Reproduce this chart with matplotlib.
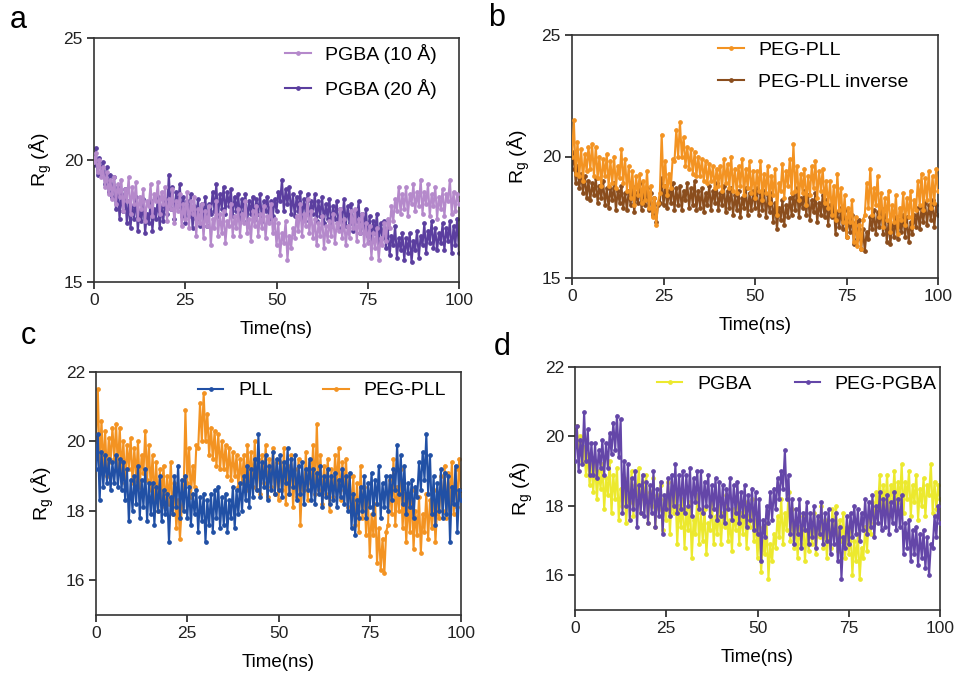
import numpy as np
import matplotlib
matplotlib.use('Agg')
import matplotlib.pyplot as plt

plt.rcParams['font.family'] = ['Liberation Sans', 'DejaVu Sans']
plt.rcParams['mathtext.fontset'] = 'custom'
plt.rcParams['mathtext.rm'] = 'Liberation Sans'

# time axis, 0.5 ns sampling (201 frames)
time_ns = np.linspace(0, 100, 201)

# Rg traces (Angstrom), one row = 5 ns
pgba_10 = [
    19.9, 20.3, 19.5, 20.0, 19.3, 19.7, 18.9, 19.5, 18.6, 19.2,
    18.4, 19.3, 18.2, 19.0, 18.5, 19.2, 17.9, 18.8, 18.3, 19.3,
    17.8, 18.9, 18.2, 19.1, 17.6, 18.5, 18.0, 18.8, 17.5, 18.3,
    18.1, 19.0, 17.7, 18.6, 18.3, 19.1, 17.8, 18.7, 18.2, 18.9,
    17.5, 18.4, 18.0, 18.8, 17.4, 18.3, 17.9, 18.6, 17.3, 18.2,
    17.6, 18.7, 17.2, 18.3, 17.8, 18.5, 16.9, 18.0, 17.4, 18.2,
    16.8, 17.9, 17.3, 18.1, 16.5, 17.6, 17.2, 18.3, 16.9, 17.8,
    17.0, 17.9, 16.6, 17.5, 17.3, 18.2, 16.9, 17.7, 17.2, 18.0,
    16.9, 17.8, 17.4, 18.3, 17.0, 17.6, 16.7, 17.9, 17.3, 18.1,
    16.9, 17.8, 17.2, 18.1, 16.8, 17.7, 17.4, 18.2, 17.0, 17.6,
    16.5, 17.4, 16.1, 17.0, 16.6, 17.5, 15.9, 16.9, 16.4, 17.2,
    16.8, 17.7, 17.1, 18.2, 16.9, 17.8, 17.3, 18.4, 17.0, 17.9,
    16.8, 17.6, 16.5, 17.4, 16.9, 17.7, 16.4, 17.3, 16.7, 17.5,
    16.9, 17.8, 16.6, 17.4, 17.1, 18.0, 16.8, 17.6, 16.5, 17.3,
    16.8, 17.9, 17.2, 18.0, 16.7, 17.6, 17.0, 17.8, 16.5, 17.4,
    16.6, 17.3, 16.0, 17.0, 16.4, 17.2, 15.9, 16.8, 16.5, 17.4,
    16.7, 17.6, 17.2, 18.1, 17.5, 18.4, 17.9, 18.9, 17.8, 18.6,
    18.0, 18.9, 17.7, 18.6, 18.2, 19.0, 17.9, 18.7, 18.1, 19.2,
    17.8, 18.7, 18.2, 19.0, 17.7, 18.6, 18.1, 18.9, 17.6, 18.5,
    18.0, 18.8, 17.7, 18.6, 18.3, 19.2, 17.8, 18.7, 17.9, 18.6,
    18.2]

pgba_20 = [
    19.8, 20.5, 19.4, 20.1, 19.5, 19.9, 19.0, 19.7, 18.7, 19.4,
    18.5, 19.3, 18.0, 18.9, 17.6, 18.6, 17.9, 18.8, 17.4, 18.3,
    17.2, 18.1, 17.6, 18.5, 17.1, 17.9, 17.5, 18.4, 17.0, 17.8,
    17.4, 18.3, 17.1, 18.0, 17.6, 18.5, 17.2, 18.1, 17.5, 18.4,
    17.8, 19.4, 18.0, 18.9, 17.6, 18.7, 18.1, 19.0, 17.7, 18.5,
    17.4, 18.3, 17.7, 18.6, 17.2, 18.1, 17.6, 18.4, 17.3, 18.2,
    17.6, 18.5, 17.3, 18.2, 17.8, 18.7, 17.9, 19.0, 17.7, 18.6,
    18.0, 18.9, 17.8, 18.7, 18.1, 18.8, 17.7, 18.5, 17.9, 18.6,
    17.6, 18.4, 17.9, 18.6, 17.5, 18.3, 17.8, 18.5, 17.6, 18.4,
    17.8, 18.6, 17.5, 18.3, 17.9, 18.5, 17.6, 18.3, 17.7, 18.4,
    17.9, 18.7, 18.3, 19.2, 17.9, 18.8, 18.2, 18.9, 17.8, 18.6,
    17.7, 18.5, 17.9, 18.7, 17.6, 18.4, 17.8, 18.6, 17.5, 18.3,
    17.8, 18.6, 17.5, 18.3, 17.7, 18.5, 17.4, 18.2, 17.6, 18.4,
    17.3, 18.1, 17.6, 18.3, 17.2, 18.0, 17.5, 18.4, 17.3, 18.1,
    17.4, 18.2, 17.1, 17.9, 17.5, 18.3, 17.0, 17.8, 17.2, 18.0,
    16.9, 17.7, 16.7, 17.5, 17.0, 17.8, 16.6, 17.4, 16.8, 17.5,
    16.4, 17.2, 16.1, 16.9, 16.5, 17.3, 16.0, 16.8, 16.3, 17.0,
    15.9, 16.8, 16.2, 17.0, 15.8, 16.7, 16.3, 17.1, 16.0, 16.9,
    16.5, 17.4, 16.2, 17.1, 16.6, 17.5, 16.4, 17.2, 16.3, 17.0,
    16.6, 17.4, 16.3, 17.2, 16.7, 17.5, 16.2, 17.3, 16.5, 17.6,
    16.2]

peg_pll = [
    20.0, 21.5, 19.3, 20.6, 19.2, 20.3, 19.0, 20.1, 19.4, 20.4,
    19.5, 20.5, 19.2, 20.4, 19.1, 20.0, 18.8, 19.9, 19.2, 20.1,
    18.8, 19.8, 18.9, 20.0, 18.7, 19.6, 19.1, 20.3, 18.9, 19.9,
    18.6, 19.6, 18.3, 19.4, 18.0, 19.2, 18.4, 19.3, 18.1, 19.0,
    18.2, 19.4, 17.9, 18.8, 17.5, 18.3, 17.2, 18.1, 18.5, 20.9,
    18.8, 19.8, 18.4, 19.3, 18.7, 19.9, 19.8, 21.1, 20.0, 21.4,
    20.0, 20.8, 19.6, 20.4, 19.5, 20.3, 19.3, 20.2, 19.2, 20.0,
    19.2, 19.9, 19.0, 19.8, 18.9, 19.7, 19.0, 19.6, 18.7, 19.5,
    18.8, 19.6, 18.6, 19.9, 18.9, 19.7, 18.7, 20.0, 18.6, 19.5,
    18.5, 19.6, 18.8, 19.9, 18.4, 19.5, 18.7, 19.8, 18.5, 19.4,
    18.3, 19.4, 18.6, 19.8, 18.2, 19.3, 18.5, 19.6, 18.1, 19.2,
    18.4, 19.5, 17.6, 18.9, 18.6, 19.7, 18.3, 19.4, 18.8, 19.9,
    18.5, 20.5, 18.6, 19.6, 18.2, 19.3, 18.5, 19.5, 18.0, 19.2,
    18.4, 19.6, 18.7, 19.8, 18.3, 19.4, 18.6, 19.5, 18.1, 19.0,
    17.9, 19.0, 17.6, 18.8, 17.4, 19.3, 17.8, 18.7, 17.3, 18.4,
    16.7, 17.9, 17.3, 18.2, 16.5, 17.5, 16.3, 17.2, 16.2, 17.4,
    17.6, 18.9, 17.9, 19.5, 17.6, 18.7, 18.0, 19.2, 17.5, 18.5,
    17.1, 18.3, 17.4, 18.6, 16.9, 18.0, 17.3, 18.4, 16.8, 17.9,
    17.4, 18.5, 17.2, 18.3, 17.5, 18.6, 17.1, 18.2, 17.8, 19.0,
    18.0, 19.3, 17.8, 19.1, 18.2, 19.4, 17.9, 19.2, 18.1, 19.5,
    18.6]

peg_pll_inverse = [
    19.5, 20.2, 18.9, 19.6, 18.7, 19.3, 18.5, 19.2, 18.3, 19.0,
    18.2, 18.9, 18.4, 19.1, 18.1, 18.8, 18.3, 19.0, 18.0, 18.7,
    17.9, 18.7, 18.2, 18.9, 17.8, 18.6, 18.1, 18.8, 17.9, 18.5,
    17.8, 18.6, 18.0, 18.8, 17.7, 18.5, 18.1, 18.9, 17.8, 18.6,
    18.0, 18.7, 17.8, 18.5, 17.6, 18.3, 17.3, 18.0, 18.1, 19.1,
    18.0, 18.8, 17.9, 18.6, 18.1, 18.9, 17.8, 18.7, 18.0, 18.8,
    17.8, 18.6, 18.2, 18.9, 17.9, 18.7, 18.0, 19.0, 17.8, 18.6,
    17.9, 18.7, 17.7, 18.5, 18.0, 18.8, 17.8, 18.6, 18.1, 18.9,
    17.8, 18.5, 18.0, 18.8, 17.7, 18.6, 17.9, 18.7, 17.6, 18.4,
    17.8, 18.6, 17.5, 18.3, 17.9, 18.7, 17.6, 18.5, 17.8, 18.6,
    17.9, 18.7, 17.6, 18.5, 17.8, 18.6, 17.5, 18.4, 17.7, 18.5,
    17.3, 18.1, 17.0, 17.9, 17.4, 18.2, 17.2, 18.0, 17.5, 18.3,
    17.6, 18.4, 17.8, 18.7, 17.5, 18.3, 17.9, 18.6, 17.6, 18.4,
    17.4, 18.2, 17.7, 18.5, 17.3, 18.1, 17.6, 18.4, 17.5, 18.2,
    17.2, 18.0, 17.5, 18.2, 16.8, 17.7, 17.1, 17.9, 17.0, 17.8,
    16.7, 17.5, 16.9, 17.6, 16.4, 17.3, 16.6, 17.4, 16.2, 17.0,
    16.1, 16.9, 16.6, 17.5, 17.0, 17.8, 16.8, 17.7, 17.1, 17.9,
    16.8, 17.6, 16.5, 17.3, 16.4, 17.2, 16.7, 17.5, 16.6, 17.4,
    16.9, 17.6, 16.7, 17.5, 16.5, 17.3, 16.8, 17.6, 17.1, 17.9,
    17.0, 17.9, 17.3, 18.1, 17.2, 18.0, 17.4, 18.2, 17.1, 18.0,
    17.6]

pll = [
    19.2, 20.2, 18.3, 19.7, 18.7, 19.6, 18.8, 19.5, 18.6, 19.4,
    18.8, 19.6, 18.7, 19.5, 18.6, 19.4, 18.3, 19.2, 17.7, 18.9,
    18.0, 19.0, 18.2, 19.3, 17.8, 18.9, 18.1, 19.2, 17.7, 18.8,
    17.9, 18.8, 17.6, 18.7, 18.0, 19.0, 17.7, 18.6, 17.9, 18.5,
    17.1, 18.4, 17.9, 19.0, 18.1, 19.3, 17.8, 18.9, 18.0, 19.0,
    17.8, 18.7, 17.6, 18.5, 17.9, 18.6, 17.4, 18.4, 17.7, 18.5,
    17.1, 18.3, 17.6, 18.5, 17.4, 18.6, 17.8, 18.7, 17.5, 18.4,
    17.6, 18.5, 17.4, 18.3, 17.8, 18.7, 17.5, 18.6, 17.9, 18.8,
    18.0, 19.0, 18.3, 19.3, 18.1, 19.2, 18.4, 19.5, 18.6, 20.2,
    18.4, 19.4, 18.7, 19.6, 18.3, 19.3, 18.6, 19.7, 18.5, 19.5,
    18.6, 19.6, 18.4, 19.4, 18.8, 19.8, 18.5, 19.5, 18.7, 19.6,
    18.3, 19.3, 18.5, 19.4, 18.2, 19.2, 18.6, 19.5, 18.3, 19.2,
    18.2, 19.1, 18.5, 19.3, 18.1, 19.0, 18.4, 19.2, 18.2, 19.0,
    18.3, 19.1, 18.1, 18.9, 18.4, 19.2, 18.2, 19.0, 18.0, 19.1,
    17.5, 18.5, 17.3, 18.3, 17.8, 18.7, 18.0, 19.0, 17.8, 18.8,
    18.1, 19.1, 17.9, 18.9, 18.2, 19.3, 17.8, 18.8, 18.1, 19.0,
    18.0, 19.0, 18.3, 19.2, 18.6, 19.9, 18.5, 19.6, 18.2, 19.3,
    17.9, 18.8, 18.1, 18.9, 17.8, 18.7, 18.4, 19.4, 18.6, 19.7,
    18.9, 20.2, 18.5, 19.6, 17.9, 19.0, 17.6, 18.8, 18.0, 19.2,
    17.8, 19.1, 17.9, 19.0, 17.1, 18.7, 18.2, 19.3, 17.4, 18.6,
    18.3]

peg_pgba = [
    19.3, 20.3, 19.0, 19.9, 19.2, 20.7, 19.3, 20.2, 18.9, 19.8,
    18.9, 19.8, 18.8, 19.6, 19.1, 19.9, 18.9, 19.8, 19.1, 20.1,
    19.5, 20.4, 19.6, 20.6, 19.4, 20.5, 17.8, 19.3, 18.0, 19.2,
    17.6, 18.8, 17.9, 19.0, 17.4, 18.6, 17.8, 18.9, 17.7, 18.7,
    17.5, 18.6, 17.8, 19.0, 17.4, 18.5, 17.7, 18.7, 17.2, 18.3,
    17.9, 18.8, 17.7, 18.9, 18.0, 19.2, 17.8, 18.9, 17.9, 19.0,
    17.8, 18.9, 18.0, 19.1, 17.7, 18.8, 18.1, 19.0, 17.9, 19.0,
    17.8, 18.7, 18.0, 18.9, 17.7, 18.6, 17.9, 18.8, 17.6, 18.7,
    17.7, 18.6, 17.5, 18.5, 17.9, 18.8, 17.6, 18.6, 17.8, 18.7,
    17.5, 18.4, 17.7, 18.6, 17.4, 18.3, 17.6, 18.5, 17.3, 18.4,
    17.2, 18.2, 16.4, 17.6, 17.1, 18.0, 17.5, 18.4, 17.6, 18.5,
    17.9, 18.8, 18.2, 19.0, 18.5, 19.6, 18.2, 18.9, 17.2, 18.2,
    16.9, 17.9, 17.2, 18.2, 16.8, 17.8, 17.3, 18.1, 16.9, 17.8,
    17.1, 18.0, 16.8, 17.7, 17.2, 18.1, 16.9, 17.8, 17.0, 17.9,
    16.6, 17.6, 16.9, 17.8, 16.4, 17.4, 15.9, 17.1, 16.8, 17.7,
    16.9, 17.8, 17.1, 18.0, 17.2, 17.9, 17.0, 17.8, 17.3, 18.2,
    17.2, 18.1, 17.4, 18.3, 17.1, 18.0, 17.5, 18.4, 17.3, 18.2,
    17.4, 18.3, 17.2, 18.1, 17.5, 18.4, 17.3, 18.2, 17.4, 18.3,
    16.6, 17.5, 16.8, 17.6, 16.4, 17.3, 16.6, 17.4, 16.3, 17.2,
    16.5, 17.3, 16.2, 17.1, 16.0, 16.9, 16.8, 17.7, 17.1, 18.0,
    17.5]

# colours
c_pgba10 = '#b589cb'
c_pgba20 = '#5b3e9f'
c_orange = '#f39322'
c_brown = '#8a4d1d'
c_blue = '#2150a5'
c_yellow = '#ece92e'
c_pegpgba = '#6446a8'

fig = plt.figure(figsize=(9.56, 6.81), dpi=100)
W, H = 956.0, 681.0


def make_axes(l, r, t, b):
    return fig.add_axes([l / W, 1 - b / H, (r - l) / W, (b - t) / H])


def trace(ax, y, color, label, z):
    ax.plot(time_ns, y, '-', color=color, lw=1.5, marker='o', ms=2.4,
            mec=color, mfc=color, label=label, zorder=z)


def style(ax, ylim, yticks, letter, lx, ly):
    ax.set_xlim(0, 100)
    ax.set_ylim(*ylim)
    ax.set_xticks([0, 25, 50, 75, 100])
    ax.set_yticks(yticks)
    ax.tick_params(direction='out', length=5, width=1.2, labelsize=12.5,
                   colors='#222222', pad=3)
    for s in ax.spines.values():
        s.set_linewidth(1.2)
        s.set_color('#333333')
    ax.set_xlabel('Time(ns)', fontsize=13.5, labelpad=9)
    ax.set_ylabel(r'R$_\mathregular{g}$ (Å)', fontsize=14)
    ax.yaxis.set_label_coords(-0.11, 0.5)
    fig.text(lx / W, 1 - ly / H, letter, fontsize=22, ha='center', va='center')


LEG = dict(frameon=False, fontsize=14, handlelength=1.3, handletextpad=0.75,
           borderpad=0, borderaxespad=0, numpoints=1)

# panel a
ax_a = make_axes(94, 459, 38, 282)
trace(ax_a, pgba_20, c_pgba20, 'PGBA (20 Å)', 2)
trace(ax_a, pgba_10, c_pgba10, 'PGBA (10 Å)', 3)
style(ax_a, (15, 25), [15, 20, 25], 'a', 18, 20)
h, l = ax_a.get_legend_handles_labels()
ax_a.legend(h[::-1], l[::-1], loc='upper right', bbox_to_anchor=(0.94, 0.975),
            labelspacing=0.75, **LEG)

# panel b
ax_b = make_axes(572, 938, 35, 278)
trace(ax_b, peg_pll_inverse, c_brown, 'PEG-PLL inverse', 2)
trace(ax_b, peg_pll, c_orange, 'PEG-PLL', 3)
style(ax_b, (15, 25), [15, 20, 25], 'b', 497, 18)
h, l = ax_b.get_legend_handles_labels()
ax_b.legend(h[::-1], l[::-1], loc='upper left', bbox_to_anchor=(0.4, 0.975),
            labelspacing=0.75, **LEG)

# panel c
ax_c = make_axes(96, 461, 372, 615)
trace(ax_c, peg_pll, c_orange, 'PEG-PLL', 2)
trace(ax_c, pll, c_blue, 'PLL', 3)
style(ax_c, (15, 22), [16, 18, 20, 22], 'c', 28, 336)
h, l = ax_c.get_legend_handles_labels()
ax_c.legend(h[::-1], l[::-1], loc='upper left', bbox_to_anchor=(0.28, 0.96),
            ncol=2, columnspacing=2.6, **LEG)

# panel d
ax_d = make_axes(575, 940, 367, 610)
trace(ax_d, pgba_10, c_yellow, 'PGBA', 2)
trace(ax_d, peg_pgba, c_pegpgba, 'PEG-PGBA', 3)
style(ax_d, (15, 22), [16, 18, 20, 22], 'd', 502, 347)
ax_d.legend(loc='upper left', bbox_to_anchor=(0.225, 0.965), ncol=2,
            columnspacing=2.25, **LEG)

fig.savefig('out.png', dpi=100)
